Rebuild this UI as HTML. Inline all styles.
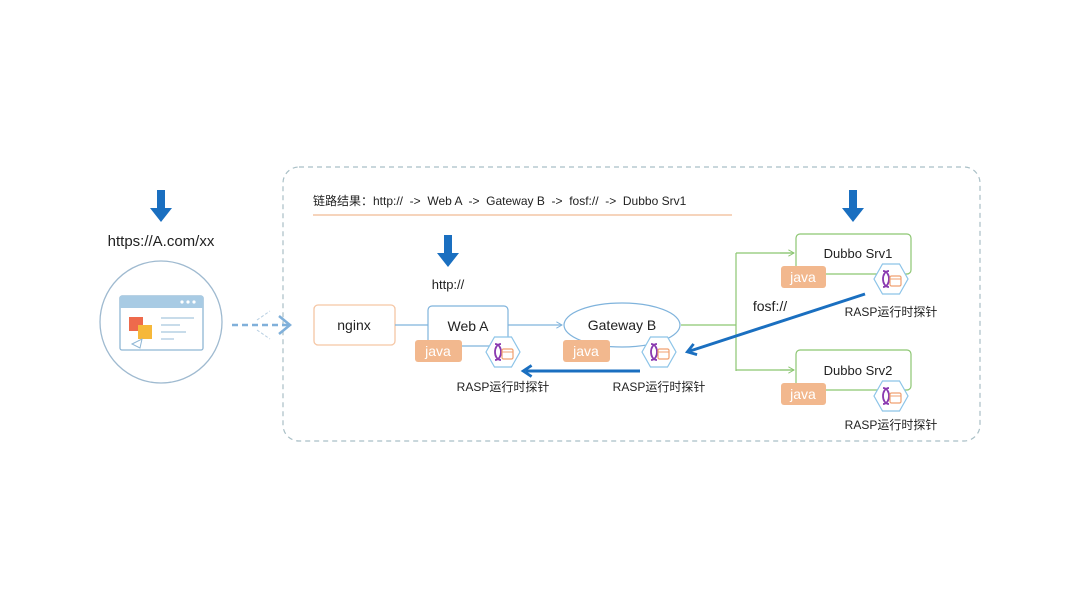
<!DOCTYPE html>
<html><head><meta charset="utf-8"><style>
html,body{margin:0;padding:0;background:#fff}
svg{display:block}
text{font-family:"Liberation Sans","Noto Sans CJK SC",sans-serif;fill:#222;white-space:pre}
</style></head><body>
<svg width="1080" height="608" viewBox="0 0 1080 608" xmlns="http://www.w3.org/2000/svg">
<defs>
<marker id="ab" viewBox="0 0 10 10" refX="8" refY="5" markerWidth="8" markerHeight="8" orient="auto" markerUnits="userSpaceOnUse"><path d="M1,1 L8,5 L1,9" fill="none" stroke="#7fb3dc" stroke-width="1.2"/></marker>
<marker id="ag" viewBox="0 0 10 10" refX="8" refY="5" markerWidth="8" markerHeight="8" orient="auto" markerUnits="userSpaceOnUse"><path d="M1,1 L8,5 L1,9" fill="none" stroke="#8cc672" stroke-width="1.2"/></marker>
<marker id="at" viewBox="0 0 10 10" refX="6" refY="5" markerWidth="14" markerHeight="14" orient="auto" markerUnits="userSpaceOnUse"><path d="M2,1 L8,5 L2,9" fill="none" stroke="#1a6fc0" stroke-width="2"/></marker>
<g id="hex">
<polygon points="-17,0 -8.5,-15 8.5,-15 17,0 8.5,15 -8.5,15" fill="#fff" stroke="#8cc4e8" stroke-width="1.2"/>
<path d="M-8,-8 C0,-8 0,8 -8,8 M-2,-8 C-10,-8 -10,8 -2,8" fill="none" stroke="#8a3ab0" stroke-width="1.8"/>
<rect x="-1" y="-3" width="11" height="10" rx="1.5" fill="#fff" stroke="#f0a070" stroke-width="1.2"/>
<line x1="-1" y1="0" x2="10" y2="0" stroke="#f0a070" stroke-width="1"/>
</g>
<g id="ard"><path d="M-4,0 h8 v18 h7 l-11,14 l-11,-14 h7 z" fill="#1a6fc0"/></g>
</defs>

<rect x="283" y="167" width="697" height="274" rx="16" fill="none" stroke="#a9bfc6" stroke-width="1.2" stroke-dasharray="5,4"/>

<use href="#ard" x="161" y="190"/>
<text x="161" y="246" font-size="15" text-anchor="middle">https://A.com/xx</text>
<circle cx="161" cy="322" r="61" fill="#fff" stroke="#9fbad0" stroke-width="1.3"/>
<rect x="120" y="296" width="83" height="54" rx="2" fill="#fff" stroke="#8fb6d4" stroke-width="1.3"/>
<rect x="120" y="296" width="83" height="12" fill="#a8cbe4"/>
<circle cx="182" cy="302" r="1.6" fill="#fff"/><circle cx="188" cy="302" r="1.6" fill="#fff"/><circle cx="194" cy="302" r="1.6" fill="#fff"/>
<rect x="129" y="317" width="14" height="14" fill="#ee6a4c"/>
<rect x="138" y="325" width="14" height="14" fill="#f6b83a"/>
<path d="M132,344 l10,-5 l-2,9 z" fill="#fff" stroke="#8fb6d4"/>
<g stroke="#a8c6de" stroke-width="1.2"><line x1="161" y1="318" x2="194" y2="318"/><line x1="161" y1="325" x2="180" y2="325"/><line x1="161" y1="332" x2="186" y2="332"/><line x1="161" y1="339" x2="174" y2="339"/></g>
<line x1="232" y1="325" x2="290" y2="325" stroke="#80b0da" stroke-width="2.5" stroke-dasharray="6,4"/>
<path d="M279,316 L290,325 L279,334" fill="none" stroke="#80b0da" stroke-width="2.5"/>
<path d="M257,320 L270,311 M257,330 L270,339" stroke="#b8cfe2" stroke-width="1" stroke-dasharray="3,2"/>

<text x="313" y="205" font-size="12">链路结果：http://  -&gt;  Web A  -&gt;  Gateway B  -&gt;  fosf://  -&gt;  Dubbo Srv1</text>
<line x1="313" y1="215" x2="732" y2="215" stroke="#f0bb95" stroke-width="1.2"/>

<use href="#ard" x="448" y="235"/>
<text x="448" y="289" font-size="13" text-anchor="middle">http://</text>
<use href="#ard" x="853" y="190"/>

<rect x="314" y="305" width="81" height="40" rx="4" fill="#fff" stroke="#f5c6a4" stroke-width="1.3"/>
<text x="354" y="330" font-size="14" text-anchor="middle">nginx</text>
<line x1="395" y1="325" x2="428" y2="325" stroke="#7fb3dc" stroke-width="1.2"/>

<rect x="428" y="306" width="80" height="40" rx="4" fill="#fff" stroke="#7fb3dc" stroke-width="1.2"/>
<text x="468" y="331" font-size="14" text-anchor="middle">Web A</text>
<rect x="415" y="340" width="47" height="22" rx="3" fill="#f2b88e"/>
<text x="438" y="356" font-size="14" text-anchor="middle" style="fill:#fff">java</text>
<use href="#hex" x="503" y="352"/>
<text x="503" y="391" font-size="12" text-anchor="middle">RASP运行时探针</text>
<line x1="508" y1="325" x2="562" y2="325" stroke="#7fb3dc" stroke-width="1.2" marker-end="url(#ab)"/>

<ellipse cx="622" cy="325" rx="58" ry="22" fill="#fff" stroke="#7fb3dc" stroke-width="1.2"/>
<text x="622" y="330" font-size="14" text-anchor="middle">Gateway B</text>
<rect x="563" y="340" width="47" height="22" rx="3" fill="#f2b88e"/>
<text x="586" y="356" font-size="14" text-anchor="middle" style="fill:#fff">java</text>
<use href="#hex" x="659" y="352"/>
<text x="659" y="391" font-size="12" text-anchor="middle">RASP运行时探针</text>

<path d="M681,325 H736 M736,253 V371 M736,253 H794 M736,370 H794" fill="none" stroke="#8cc672" stroke-width="1.2"/>
<line x1="780" y1="253" x2="794" y2="253" stroke="#8cc672" stroke-width="1.2" marker-end="url(#ag)"/>
<line x1="780" y1="370" x2="794" y2="370" stroke="#8cc672" stroke-width="1.2" marker-end="url(#ag)"/>
<text x="770" y="311" font-size="14" text-anchor="middle">fosf://</text>

<rect x="796" y="234" width="115" height="40" rx="4" fill="#fff" stroke="#8cc672" stroke-width="1.2"/>
<text x="858" y="258" font-size="13" text-anchor="middle">Dubbo Srv1</text>
<rect x="781" y="266" width="45" height="22" rx="3" fill="#f2b88e"/>
<text x="803" y="282" font-size="14" text-anchor="middle" style="fill:#fff">java</text>
<use href="#hex" x="891" y="279"/>
<text x="891" y="316" font-size="12" text-anchor="middle">RASP运行时探针</text>

<rect x="796" y="350" width="115" height="40" rx="4" fill="#fff" stroke="#8cc672" stroke-width="1.2"/>
<text x="858" y="375" font-size="13" text-anchor="middle">Dubbo Srv2</text>
<rect x="781" y="383" width="45" height="22" rx="3" fill="#f2b88e"/>
<text x="803" y="399" font-size="14" text-anchor="middle" style="fill:#fff">java</text>
<use href="#hex" x="891" y="396"/>
<text x="891" y="429" font-size="12" text-anchor="middle">RASP运行时探针</text>

<line x1="865" y1="294" x2="690" y2="351" stroke="#1a6fc0" stroke-width="3" marker-end="url(#at)"/>
<line x1="640" y1="371" x2="526" y2="371" stroke="#1a6fc0" stroke-width="3" marker-end="url(#at)"/>
</svg>
</body></html>
